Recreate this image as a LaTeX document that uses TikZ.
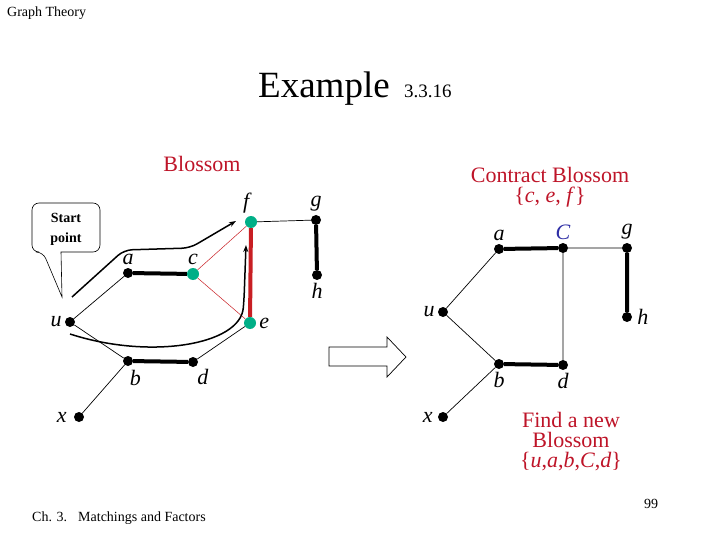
\documentclass[tikz,border=0pt]{standalone}
\usepackage{fontspec}
\setmainfont{Liberation Serif}
\usetikzlibrary{arrows.meta}
\definecolor{BlossomGreen}{RGB}{0,175,135}
\definecolor{BlossomRed}{RGB}{200,30,35}
\definecolor{TextRed}{RGB}{190,20,40}
\definecolor{ShrunkBlue}{RGB}{45,45,165}
\tikzset{
  vtx/.style={circle,fill=black,inner sep=0pt,minimum size=10pt},
  bvtx/.style={circle,fill=BlossomGreen,inner sep=0pt,minimum size=12pt},
  lbl/.style={font=\fontsize{22}{22}\selectfont\itshape,inner sep=0pt,label distance=3pt},
  lnk/.style={draw,line width=0.7pt},
  mate/.style={draw,line width=4pt},
  trail/.style={line width=1.5pt,rounded corners=8pt,-{Stealth[length=7pt,width=5pt]}},
  rtxt/.style={font=\fontsize{22}{22}\selectfont,text=TextRed,inner sep=0pt,anchor=base},
}

\begin{document}
\begin{tikzpicture}[x=1pt,y=-1pt,
    small/.style={font=\fontsize{14}{14}\selectfont,inner sep=0pt}]
  \useasboundingbox (0,0) rectangle (720,540);
  \node[small,anchor=base west] (hdr) at (7,17) {Graph Theory};
  \node[font=\fontsize{37}{37}\selectfont,inner sep=0pt,anchor=base west] (ttl) at (258,98) {Example};
  \node[font=\fontsize{19}{19}\selectfont,inner sep=0pt,anchor=base west] (num) at (404,98) {3.3.16};
  \node[small,anchor=base west] (foot) at (32,521) {Ch. 3.\hspace{11pt}Matchings and Factors};
  \node[small,anchor=base] (pg) at (651,508) {99};

  % before: blossom on c, e, f
  \node[rtxt] (bl) at (202,172) {Blossom};
  \node[vtx,label={[lbl]left:u}] (u) at (70,322) {};
  \node[vtx,label={[lbl]above:a}] (a) at (128,273) {};
  \node[bvtx,label={[lbl]above:c}] (c) at (193,274) {};
  \node[bvtx,label={[lbl]100:f}] (f) at (251,222) {};
  \node[vtx,label={[lbl]above:g}] (g) at (316,220) {};
  \node[vtx,label={[lbl]below:h}] (h) at (317,275) {};
  \node[bvtx,label={[lbl]right:e}] (e) at (250,323) {};
  \node[vtx,label={[lbl,label distance=4pt]-80:b}] (b) at (128,361) {};
  \node[vtx,label={[lbl]-60:d}] (d) at (193,362) {};
  \node[vtx,label={[lbl,label distance=7pt]left:x}] (x) at (79,417) {};
  \draw[lnk] (u) -- (a) (u) -- (b) (b) -- (x) (d) -- (e) (f) -- (g);
  \draw[mate] (a) -- (c) (b) -- (d) (g) -- (h);
  \draw[BlossomRed,line width=0.5pt] (c) -- (f) (c) -- (e);
  \draw[BlossomRed,line width=4pt] (f) -- (e);

  \node[font=\fontsize{14}{20}\selectfont\bfseries,align=center,inner sep=0pt] (start) at (66,229) {Start\\point};
  \draw[line width=0.6pt,rounded corners=7pt] (43,252) [sharp corners]-- (62,297) -- (61,252)
    [rounded corners=7pt]-- (100,252) -- (100,203) -- (32,203) -- (32,252) -- cycle;
  \coordinate (p1) at (72,297);
  \coordinate (q1) at (236,221);
  \coordinate (p2) at (70,334);
  \coordinate (q2) at (246,245);
  \draw[trail] (p1) -- (124,250) -- (190,248) -- (q1);
  \draw[trail] (p2) .. controls (150,360) and (240,345) .. (244,300) -- (q2);

  \draw[line width=0.7pt] (329,347) -- (387,347) -- (387,337) -- (406,357) -- (387,377) -- (387,366) -- (329,366) -- cycle;

  % after: blossom shrunk to C
  \node[rtxt] (cb) at (550,183) {Contract Blossom};
  \node[rtxt] (cset) at (550,203) {\{\textit{c}, \textit{e}, \textit{f}\}};
  \node[vtx,label={[lbl]left:u}] (u2) at (443,312) {};
  \node[vtx,label={[lbl]above:a}] (a2) at (499,249) {};
  \node[vtx,label={[lbl,text=ShrunkBlue]above:C}] (C2) at (563,248) {};
  \node[vtx,label={[lbl]above:g}] (g2) at (627,248) {};
  \node[vtx,label={[lbl,label distance=5pt]right:h}] (h2) at (627,317) {};
  \node[vtx,label={[lbl]below:b}] (b2) at (499,364) {};
  \node[vtx,label={[lbl]below:d}] (d2) at (563,365) {};
  \node[vtx,label={[lbl,label distance=5pt]left:x}] (x2) at (443,417) {};
  \draw[lnk] (u2) -- (a2) (u2) -- (b2) (b2) -- (x2) (C2) -- (g2) (C2) -- (d2);
  \draw[mate] (a2) -- (C2) (b2) -- (d2) (g2) -- (h2);

  \node[rtxt] (nb1) at (571,427) {Find a new};
  \node[rtxt] (nb2) at (571,447) {Blossom};
  \node[rtxt] (nb3) at (571,467) {\{\textit{u},\textit{a},\textit{b},\textit{C},\textit{d}\}};
\end{tikzpicture}
\end{document}
